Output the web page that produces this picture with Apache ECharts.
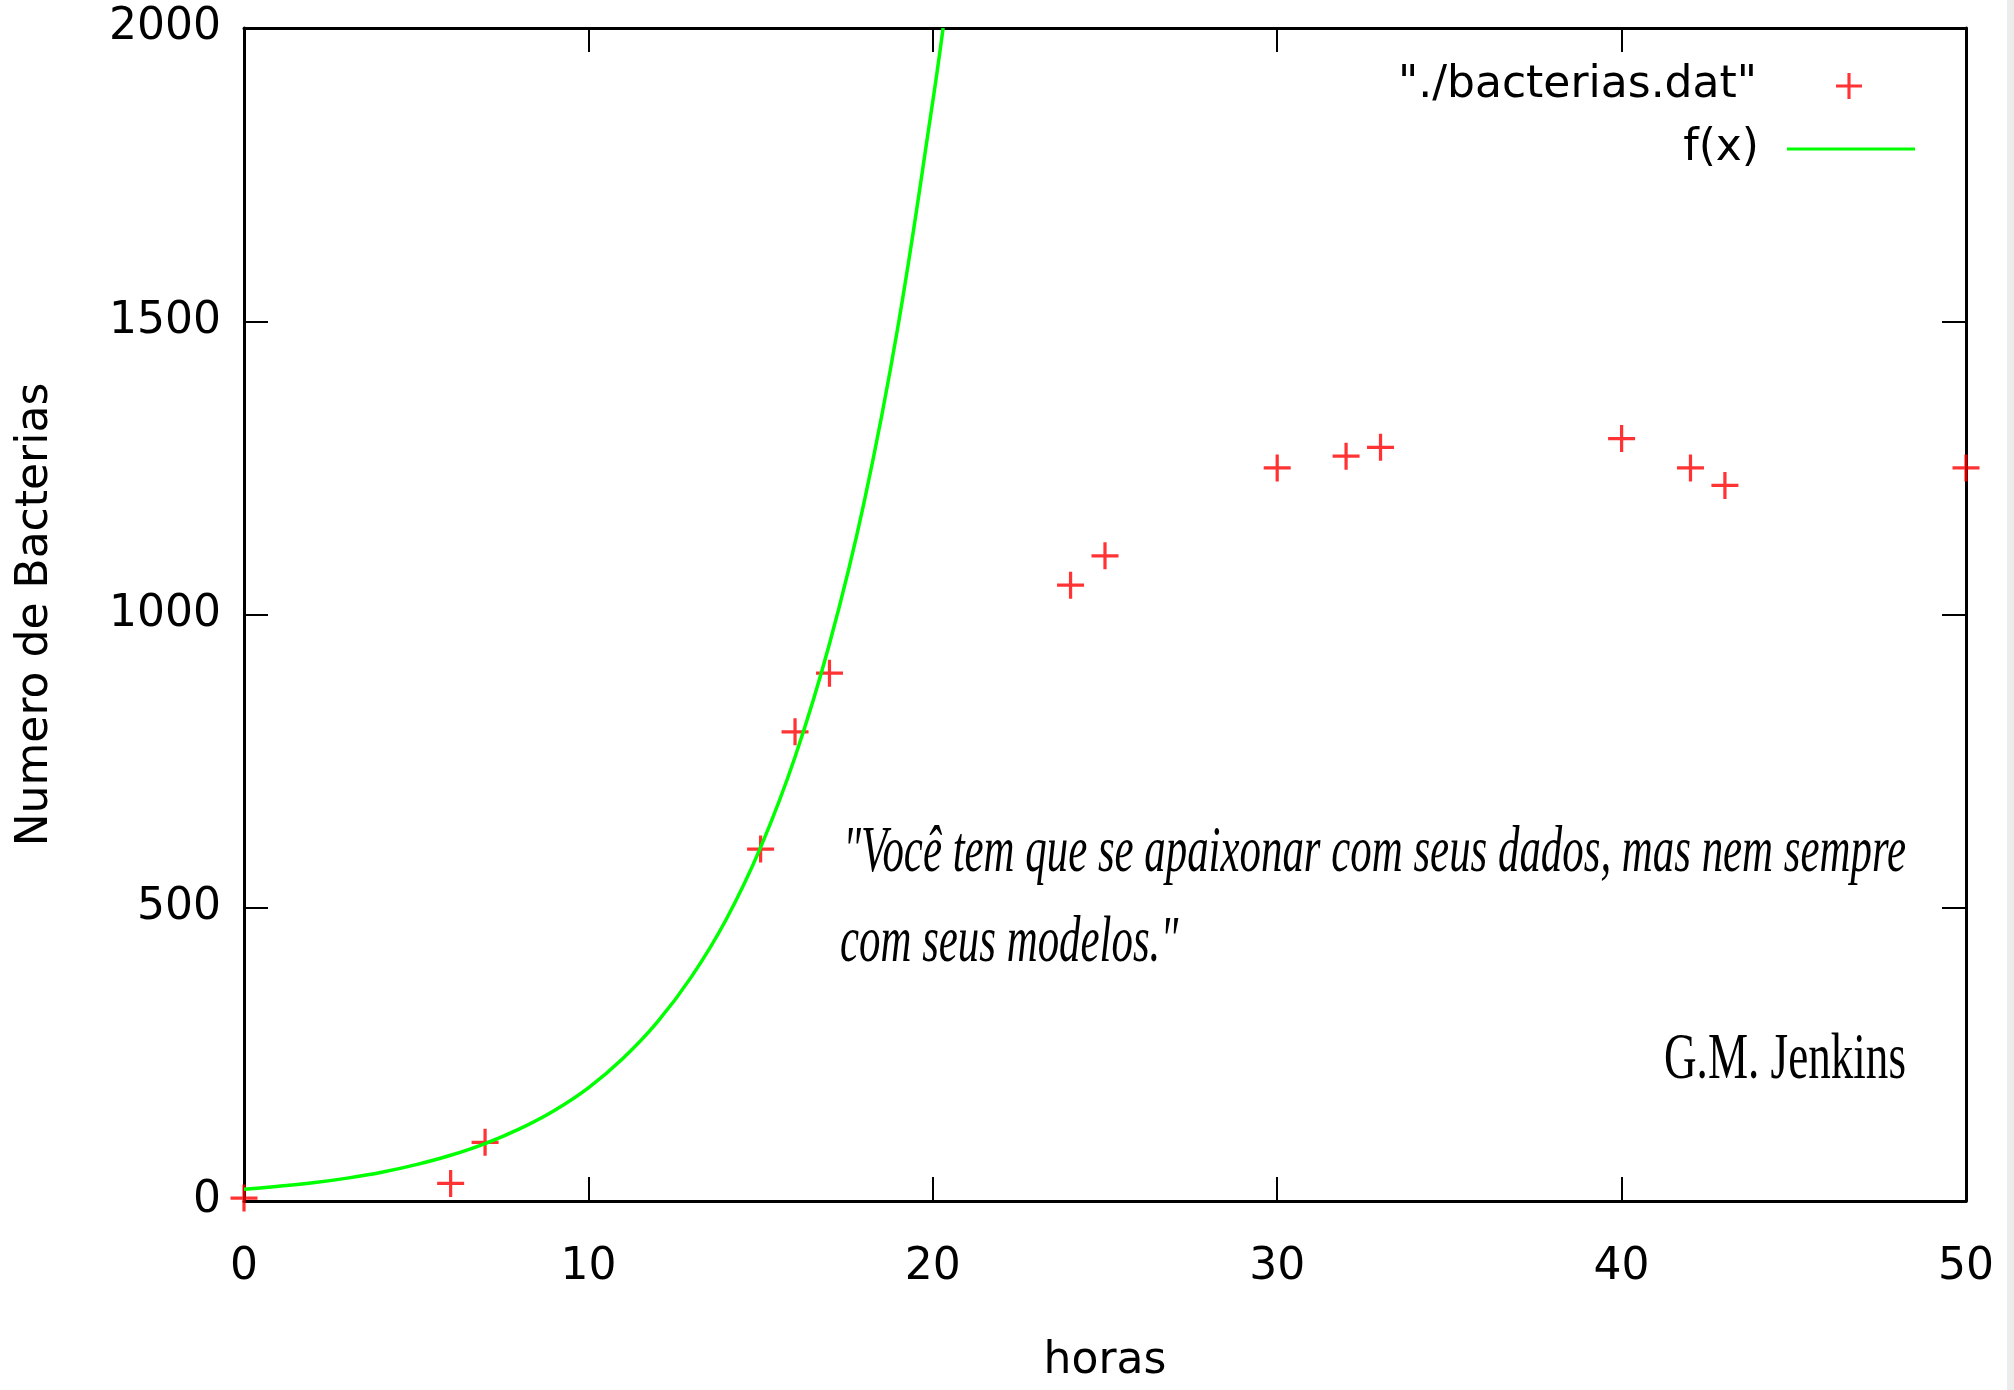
<!DOCTYPE html>
<html>
<head>
<meta charset="utf-8">
<script src="https://cdn.jsdelivr.net/npm/echarts@6/dist/echarts.min.js"></script>
<style>
    html, body { margin: 0; padding: 0; background: #fff; }
    #chart { width: 2014px; height: 1390px; }
</style>
</head>
<body>
<div id="chart"></div>
<script type="text/javascript">
    // data points (horas, numero de bacterias)
    const horas = [0, 6, 7, 15, 16, 17, 24, 25, 30, 32, 33, 40, 42, 43, 50];
    const bacterias = [5, 30, 100, 600, 800, 900, 1050, 1100, 1250, 1270, 1285, 1300, 1250, 1220, 1250];

    // the fitted curve f(x), sampled by eye along the green line
    const curveX = [0, 1, 2, 3, 4, 5, 6, 7, 8, 9, 10, 11, 12, 13, 14, 15, 16, 17, 18, 19, 20, 20.3];
    const curveY = [20, 25, 31, 39, 49, 62, 78, 98, 123, 154, 193, 243, 305, 383, 480, 603, 757, 950, 1190, 1495, 1875, 2000];

    const xTicks = [0, 10, 20, 30, 40, 50];
    const yTicks = [0, 500, 1000, 1500, 2000];

    const quoteLines = ['"Você tem que se apaixonar com seus dados, mas nem sempre', 'com seus modelos."'];
    const author = 'G.M. Jenkins';

    const plusPath = 'path://M-1,-0.12L-0.12,-0.12L-0.12,-1L0.12,-1L0.12,-0.12L1,-0.12L1,0.12L0.12,0.12L0.12,1L-0.12,1L-0.12,0.12L-1,0.12Z';
    const sans = 'DejaVu Sans';
    const quoteFont = '"Liberation Serif"';

    function fitScale(text, font, target) {
        let ctx = document.createElement('canvas').getContext('2d');
        ctx.font = font;
        return target / ctx.measureText(text).width;
    }

    let points = horas.map((h, i) => [h, bacterias[i]]);
    let curve = curveX.map((x, i) => [x, curveY[i]]);

    let axisLine = { onZero: false, lineStyle: { color: '#000', width: 3 } };
    let axisTick = { inside: true, length: 24, lineStyle: { color: '#000', width: 2 } };
    let tickLabel = { fontSize: 44, fontFamily: sans, color: '#000', formatter: v => String(v) };

    let f1 = 'italic 66px ' + quoteFont;
    let f2 = '66px ' + quoteFont;
    let quoteScale = fitScale(quoteLines[0], f1, 1063);

    let chart = echarts.init(document.getElementById('chart'));
    chart.setOption({
        backgroundColor: '#fff',
        animation: false,
        grid: { left: 244, right: 48, top: 28, bottom: 189 },
        legend: [{
            data: [{ name: '"./bacterias.dat"', icon: plusPath }],
            right: 152,
            top: 64,
            padding: 0,
            align: 'right',
            itemWidth: 26,
            itemHeight: 27,
            selectedMode: false,
            textStyle: { fontSize: 44, fontFamily: sans, color: '#000', padding: [0, 74, 0, 0] }
        }, {
            data: [{ name: 'f(x)', icon: 'rect' }],
            right: 99,
            top: 127,
            padding: 0,
            align: 'right',
            itemWidth: 128,
            itemHeight: 3,
            selectedMode: false,
            textStyle: { fontSize: 44, fontFamily: sans, color: '#000', padding: [0, 23, 0, 0] }
        }],
        xAxis: [{
            type: 'value',
            min: xTicks[0],
            max: xTicks[xTicks.length - 1],
            interval: 10,
            position: 'bottom',
            name: 'horas',
            nameLocation: 'middle',
            nameGap: 139,
            nameTextStyle: { fontSize: 44, fontFamily: sans, color: '#000' },
            axisLine: axisLine,
            axisTick: axisTick,
            axisLabel: Object.assign({ margin: 45 }, tickLabel),
            splitLine: { show: false }
        }, {
            type: 'value',
            min: xTicks[0],
            max: xTicks[xTicks.length - 1],
            interval: 10,
            position: 'top',
            axisLine: axisLine,
            axisTick: axisTick,
            axisLabel: { show: false },
            splitLine: { show: false }
        }],
        yAxis: [{
            type: 'value',
            min: yTicks[0],
            max: yTicks[yTicks.length - 1],
            interval: 500,
            position: 'left',
            name: 'Numero de Bacterias',
            nameLocation: 'middle',
            nameGap: 186,
            nameTextStyle: { fontSize: 44, fontFamily: sans, color: '#000' },
            axisLine: axisLine,
            axisTick: axisTick,
            axisLabel: Object.assign({ margin: 23 }, tickLabel),
            splitLine: { show: false }
        }, {
            type: 'value',
            min: yTicks[0],
            max: yTicks[yTicks.length - 1],
            interval: 500,
            position: 'right',
            axisLine: axisLine,
            axisTick: axisTick,
            axisLabel: { show: false },
            splitLine: { show: false }
        }],
        series: [{
            name: '"./bacterias.dat"',
            type: 'scatter',
            data: points,
            symbol: plusPath,
            symbolSize: 27,
            clip: false,
            itemStyle: { color: '#ff0000' }
        }, {
            name: 'f(x)',
            type: 'line',
            data: curve,
            smooth: 0.4,
            symbol: 'none',
            showSymbol: false,
            lineStyle: { color: '#00ff00', width: 3.5 },
            itemStyle: { color: '#00ff00' }
        }],
        graphic: [{
            type: 'text',
            x: 843,
            y: 854,
            scaleX: quoteScale,
            style: { text: quoteLines[0], font: f1, fill: '#000', align: 'left', verticalAlign: 'middle' }
        }, {
            type: 'text',
            x: 840,
            y: 944,
            scaleX: quoteScale,
            style: { text: quoteLines[1], font: f1, fill: '#000', align: 'left', verticalAlign: 'middle' }
        }, {
            type: 'text',
            x: 1906,
            y: 1061,
            scaleX: fitScale(author, f2, 242),
            style: { text: author, font: f2, fill: '#000', align: 'right', verticalAlign: 'middle' }
        }, {
            type: 'rect',
            shape: { x: 2007, y: 0, width: 7, height: 1390 },
            style: { fill: '#ececec' },
            silent: true
        }]
    });
</script>
</body>
</html>
